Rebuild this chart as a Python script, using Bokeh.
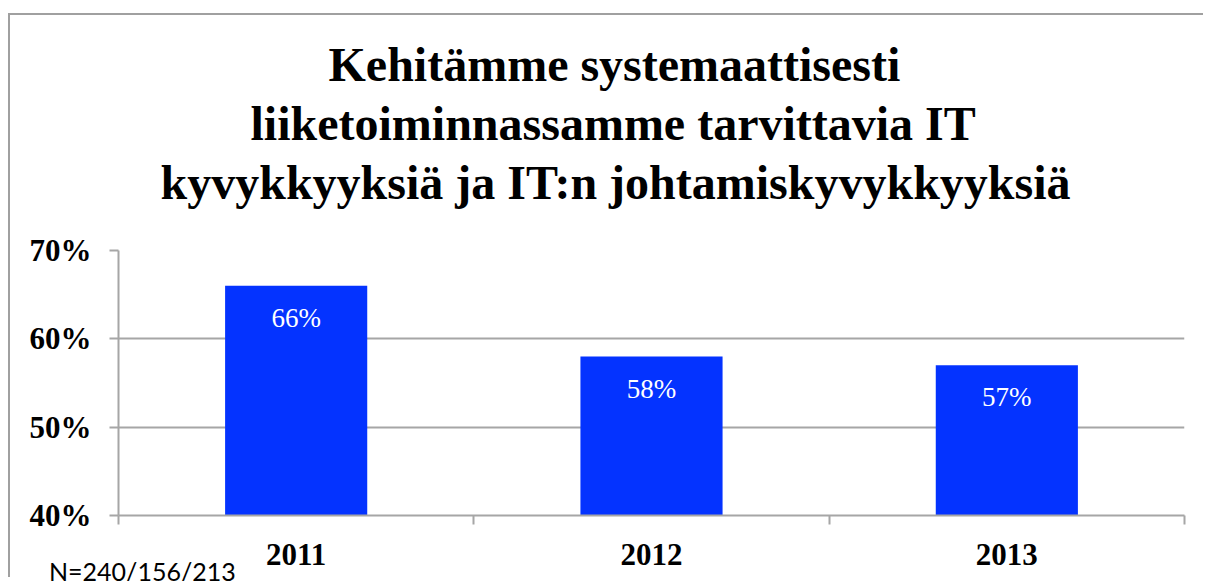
from bokeh.plotting import figure
from bokeh.models import FixedTicker, PrintfTickFormatter, ColumnDataSource, Title, Div
from bokeh.layouts import column
from bokeh.core.properties import value
from bokeh.embed import file_html
from bokeh.resources import INLINE

title_lines = ["Kehitämme systemaattisesti",
               "liiketoiminnassamme tarvittavia IT",
               "kyvykkyyksiä ja IT:n johtamiskyvykkyyksiä"]
years = ["2011", "2012", "2013"]
values = [66, 58, 57]
y_ticks = [40, 50, 60, 70]
note = "N=240/156/213"

GRAY = "#A6A6A6"
BLUE = "#0433FF"

xs = list(range(len(years)))
labels = [f"{v}%" for v in values]
src = ColumnDataSource(dict(x=xs, top=values, label=labels))

p = figure(width=1195, height=564,
           x_range=(-0.5, len(years) - 0.5),
           y_range=(y_ticks[0], y_ticks[-1]),
           output_backend="svg", toolbar_location=None,
           min_border_left=108, min_border_right=21,
           min_border_top=235, min_border_bottom=64)
p.margin = (13, 0, 0, 8)
p.styles = {"border-top": "2px solid #A0A0A0", "border-left": "2px solid #A0A0A0"}
p.outline_line_color = None
p.background_fill_color = "white"
p.border_fill_color = "white"

p.vbar(x="x", top="top", bottom=y_ticks[0], width=0.4, source=src,
       fill_color=BLUE, line_color=None)
p.text(x="x", y="top", text="label", source=src, text_color="white",
       text_font=value("Liberation Serif"), text_font_size="27px",
       text_align="center", text_baseline="middle", y_offset=32)

# x axis
xt = FixedTicker(ticks=xs, minor_ticks=[i - 0.5 for i in range(len(years) + 1)])
p.xaxis.ticker = xt
p.xaxis.major_label_overrides = {i: y for i, y in enumerate(years)}
p.xaxis.major_tick_line_color = None
p.xaxis.major_tick_out = 0
p.xaxis.major_tick_in = 0
p.xaxis.minor_tick_out = 9
p.xaxis.minor_tick_in = 0
p.xaxis.minor_tick_line_color = GRAY
p.xaxis.minor_tick_line_width = 2
p.xaxis.axis_line_color = GRAY
p.xaxis.axis_line_width = 2
p.xaxis.major_label_text_font = "Liberation Serif"
p.xaxis.major_label_text_font_style = "bold"
p.xaxis.major_label_text_font_size = "31px"
p.xaxis.major_label_text_color = "black"
p.xaxis.major_label_standoff = 19

# y axis
yt = FixedTicker(ticks=y_ticks, minor_ticks=[])
p.yaxis.ticker = yt
p.yaxis.formatter = PrintfTickFormatter(format="%d%%")
p.yaxis.major_tick_out = 9
p.yaxis.major_tick_in = 0
p.yaxis.minor_tick_line_color = None
p.yaxis.major_tick_line_color = GRAY
p.yaxis.major_tick_line_width = 2
p.yaxis.axis_line_color = GRAY
p.yaxis.axis_line_width = 2
p.yaxis.major_label_text_font = "Liberation Serif"
p.yaxis.major_label_text_font_style = "bold"
p.yaxis.major_label_text_font_size = "31px"
p.yaxis.major_label_text_color = "black"
p.yaxis.major_label_standoff = 18

p.xgrid.visible = False
p.ygrid.ticker = yt
p.ygrid.grid_line_color = GRAY
p.ygrid.grid_line_width = 2

# spacer between the frame and the title block
p.add_layout(Title(text=" ", text_font_size="2px", standoff=37), "above")
# title lines, nearest the frame first
offsets = [210, 132, 42]
standoffs = [2, 6, 2]
for i in reversed(range(len(title_lines))):
    p.add_layout(Title(text=title_lines[i], align="left", offset=offsets[i],
                       standoff=standoffs[i],
                       text_font="Liberation Serif", text_font_style="bold",
                       text_font_size="48px", text_color="black"), "above")

note_div = Div(text=note, styles={"position": "absolute", "left": "44px", "top": "549px",
                                  "font-family": "Lato", "font-size": "25px",
                                  "color": "black", "z-index": "10",
                                  "white-space": "nowrap"})

root = column(p, note_div)
open("out.html", "w").write(file_html(root, INLINE))
